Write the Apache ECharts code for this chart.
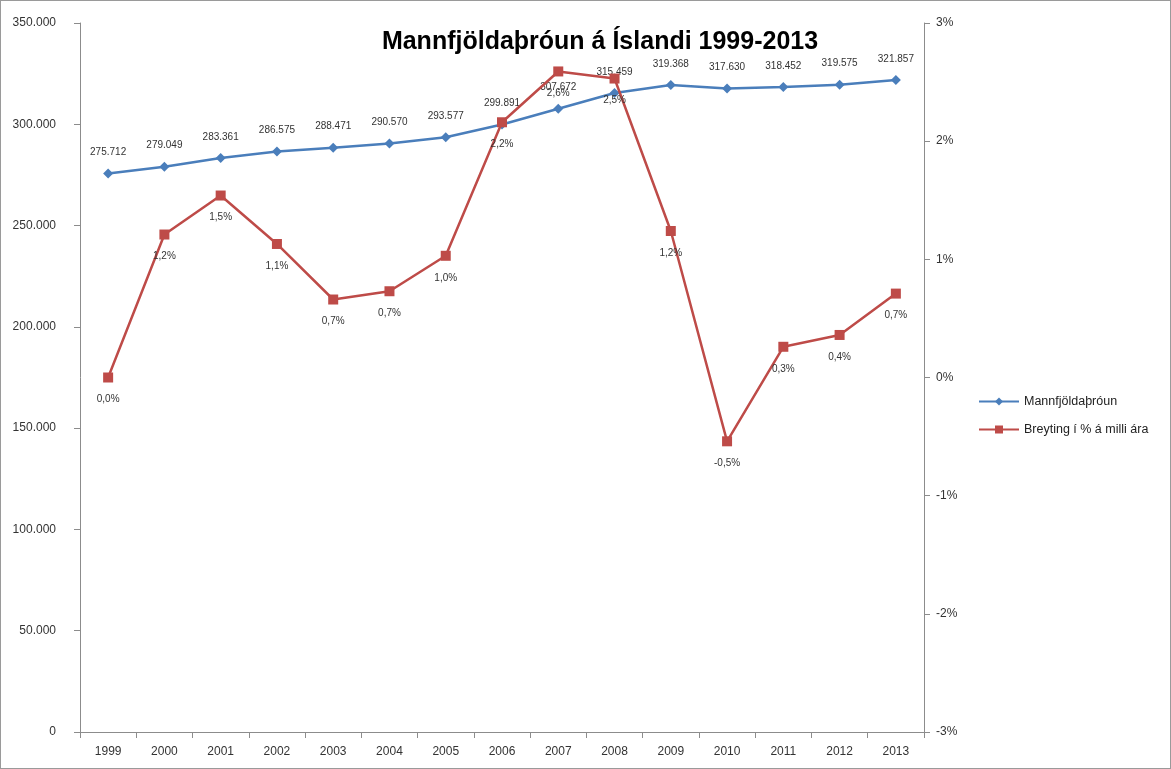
<!DOCTYPE html>
<html>
<head>
<meta charset="utf-8">
<script src="https://cdn.jsdelivr.net/npm/echarts@6/dist/echarts.min.js"></script>
<style>
    html, body { margin: 0; padding: 0; background: #fff; }
    #chart { width: 1169px; height: 767px; border: 1px solid #9a9a9a; }
</style>
</head>
<body>
<div id="chart"></div>
<script>
    // gögn
    const years = ['1999', '2000', '2001', '2002', '2003', '2004', '2005', '2006', '2007', '2008', '2009', '2010', '2011', '2012', '2013'];
    const population = [275712, 279049, 283361, 286575, 288471, 290570, 293577, 299891, 307672, 315459, 319368, 317630, 318452, 319575, 321857];
    const changePct = [0.0, 1.21, 1.54, 1.13, 0.66, 0.73, 1.03, 2.16, 2.59, 2.53, 1.24, -0.54, 0.26, 0.36, 0.71];

    const fontFamily = '"Liberation Sans", "DejaVu Sans", sans-serif';
    const blue = '#4a7ebb';
    const red = '#be4b48';

    const thousands = (v) => String(v).replace(/\B(?=(\d{3})+(?!\d))/g, '.');

    const chart = echarts.init(document.getElementById('chart'));
    chart.setOption({
        animation: false,
        textStyle: { fontFamily: fontFamily },
        title: {
            text: 'Mannfjöldaþróun á Íslandi 1999-2013',
            left: 594,
            top: 24,
            textAlign: 'center',
            textStyle: { fontSize: 25, fontWeight: 'bold', color: '#000', fontFamily: fontFamily }
        },
        legend: {
            orient: 'vertical',
            left: 972,
            top: 389,
            itemGap: 15,
            itemWidth: 40,
            itemHeight: 10,
            textStyle: { fontSize: 12.5, color: '#222' },
            data: ['Mannfjöldaþróun', 'Breyting í % á milli ára']
        },
        grid: { left: 79, right: 246, top: 22, bottom: 36 },
        xAxis: {
            type: 'category',
            data: years,
            boundaryGap: true,
            axisLine: { lineStyle: { color: '#8c8c8c' } },
            axisTick: { show: true, interval: 0, length: 6, lineStyle: { color: '#8c8c8c' } },
            axisLabel: { color: '#333', fontSize: 12, margin: 14, interval: 0 }
        },
        yAxis: [
            {
                type: 'value',
                min: 0,
                max: 350000,
                interval: 50000,
                splitLine: { show: false },
                axisLine: { show: true, lineStyle: { color: '#8c8c8c' } },
                axisTick: { show: true, length: 6, lineStyle: { color: '#8c8c8c' } },
                axisLabel: { color: '#333', fontSize: 12, margin: 24, formatter: (v) => thousands(v) }
            },
            {
                type: 'value',
                min: -3,
                max: 3,
                interval: 1,
                splitLine: { show: false },
                axisLine: { show: true, lineStyle: { color: '#8c8c8c' } },
                axisTick: { show: true, length: 6, lineStyle: { color: '#8c8c8c' } },
                axisLabel: { color: '#333', fontSize: 12, margin: 12, formatter: (v) => v + '%' }
            }
        ],
        series: [
            {
                name: 'Mannfjöldaþróun',
                type: 'line',
                yAxisIndex: 0,
                data: population,
                symbol: 'diamond',
                symbolSize: 10,
                lineStyle: { color: blue, width: 2.5 },
                itemStyle: { color: blue },
                label: {
                    show: true,
                    position: 'top',
                    distance: 11,
                    fontSize: 10,
                    color: '#333',
                    formatter: (p) => thousands(p.value)
                },
                z: 3
            },
            {
                name: 'Breyting í % á milli ára',
                type: 'line',
                yAxisIndex: 1,
                data: changePct,
                symbol: 'rect',
                symbolSize: 10,
                lineStyle: { color: red, width: 2.5 },
                itemStyle: { color: red },
                label: {
                    show: true,
                    position: 'bottom',
                    distance: 12,
                    fontSize: 10,
                    color: '#333',
                    formatter: (p) => p.value.toFixed(1).replace('.', ',') + '%'
                },
                z: 4
            }
        ]
    });
</script>
</body>
</html>
